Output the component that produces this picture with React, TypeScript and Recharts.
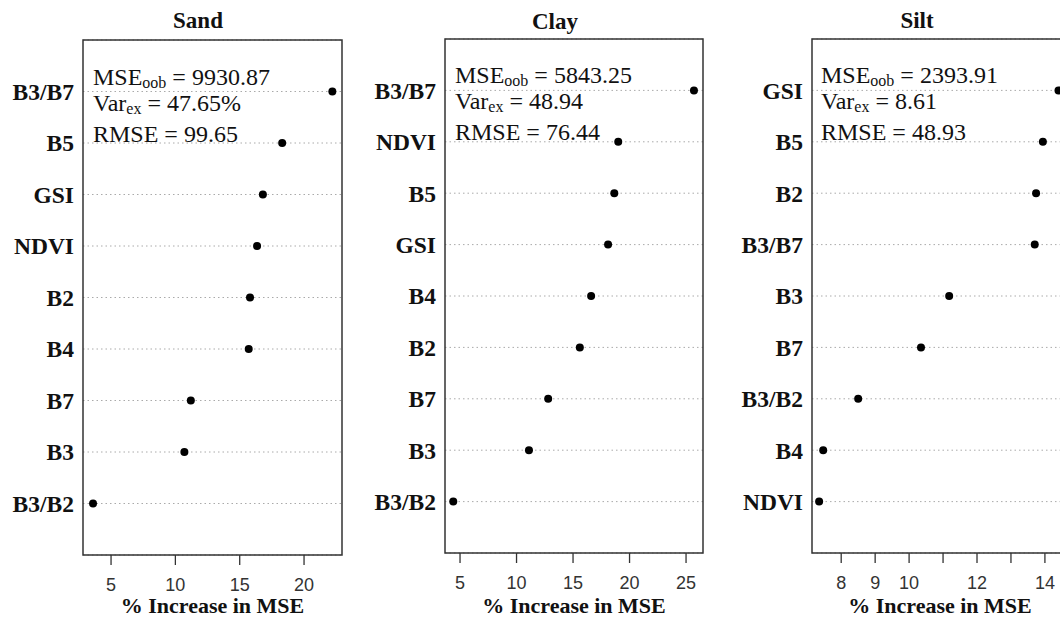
import React from 'react';
import {
  ScatterChart,
  Scatter,
  XAxis,
  YAxis,
  CartesianGrid,
  ReferenceArea,
} from 'recharts';

// variable importance, top row first
const sandLabels = ['B3/B7', 'B5', 'GSI', 'NDVI', 'B2', 'B4', 'B7', 'B3', 'B3/B2'];
const sandValues = [22.2, 18.3, 16.8, 16.35, 15.8, 15.7, 11.2, 10.7, 3.6];
const sandTicks = [5, 10, 15, 20];

const clayLabels = ['B3/B7', 'NDVI', 'B5', 'GSI', 'B4', 'B2', 'B7', 'B3', 'B3/B2'];
const clayValues = [25.7, 19.0, 18.65, 18.1, 16.6, 15.6, 12.8, 11.1, 4.4];
const clayTicks = [5, 10, 15, 20, 25];

const siltLabels = ['GSI', 'B5', 'B2', 'B3/B7', 'B3', 'B7', 'B3/B2', 'B4', 'NDVI'];
const siltValues = [14.4, 13.94, 13.74, 13.7, 11.18, 10.35, 8.5, 7.47, 7.35];
const siltTicks = [8, 9, 10, 11, 12, 13, 14];
const siltTickLabels = ['8', '9', '10', '', '12', '', '14'];

const SERIF = 'Liberation Serif';
const SANS = 'Liberation Sans';

interface PanelProps {
  left: number;
  labels: string[];
  values: number[];
  ticks: number[];
  tickText?: string[];
  domain: [number, number];
  marginLeft: number;
  marginRight: number;
  marginTop: number;
  axisHeight: number;
}

function Dot(props: any) {
  const { cx, cy } = props;
  return <circle cx={cx} cy={cy} r={4} fill="#000" />;
}

function Panel({ left, labels, values, ticks, tickText, domain, marginLeft, marginRight, marginTop, axisHeight }: PanelProps) {
  const n = labels.length;
  const data = labels.map((name, i) => ({ name, value: values[i], rank: n - i }));
  const rows = labels.map((_, i) => i + 1);
  return (
    <div style={{ position: 'absolute', left, top: 0 }}>
      <ScatterChart
        width={360}
        height={619}
        margin={{ top: marginTop, right: marginRight, bottom: 0, left: marginLeft }}
      >
        <CartesianGrid vertical={false} stroke="#aaa" strokeDasharray="1.5 3" />
        <ReferenceArea
          x1={domain[0]}
          x2={domain[1]}
          y1={0}
          y2={n + 1}
          fill="none"
          stroke="#333"
          strokeWidth={1.5}
          fillOpacity={0}
        />
        <XAxis
          type="number"
          dataKey="value"
          domain={domain}
          ticks={ticks}
          allowDataOverflow
          axisLine={false}
          tickLine={{ stroke: '#333', strokeWidth: 1.3 }}
          tickSize={10}
          tickMargin={13}
          height={axisHeight}
          tickFormatter={(v: number) => (tickText ? tickText[ticks.indexOf(v)] : String(v))}
          tick={{ fill: '#333', fontSize: 18, fontFamily: SANS }}
          label={{
            value: '% Increase in MSE',
            position: 'insideBottom',
            offset: 6,
            fontFamily: SERIF,
            fontWeight: 'bold',
            fontSize: 22,
            fill: '#111',
          }}
        />
        <YAxis
          type="number"
          dataKey="rank"
          domain={[0, n + 1]}
          ticks={rows}
          width={80}
          axisLine={false}
          tickLine={false}
          tickSize={0}
          tickMargin={9}
          tickFormatter={(v: number) => labels[n - v]}
          tick={{ fill: '#111', fontSize: 23.5, fontWeight: 'bold', fontFamily: SERIF }}
        />
        <Scatter data={data} shape={Dot} isAnimationActive={false} />
      </ScatterChart>
    </div>
  );
}

function Stats({ x, y, mse, varex, rmse }: { x: number; y: number; mse: string; varex: string; rmse: string }) {
  return (
    <g fontFamily={SERIF} fontSize={24} fill="#111">
      <text x={x} y={y}>
        MSE<tspan fontSize={16} dy={3}>oob</tspan>
        <tspan dy={-3}> = {mse}</tspan>
      </text>
      <text x={x} y={y + 26}>
        Var<tspan fontSize={16} dy={3}>ex</tspan>
        <tspan dy={-3}> = {varex}</tspan>
      </text>
      <text x={x} y={y + 57}>
        RMSE = {rmse}
      </text>
    </g>
  );
}

export default function App() {
  return (
    <div
      style={{
        position: 'absolute',
        left: 0,
        top: 0,
        width: 1060,
        height: 619,
        overflow: 'hidden',
        background: '#fff',
        fontFamily: SERIF,
      }}
    >
      <Panel
        left={0}
        labels={sandLabels}
        values={sandValues}
        ticks={sandTicks}
        domain={[2.82, 22.95]}
        marginLeft={3}
        marginRight={18}
        marginTop={40}
        axisHeight={64}
      />
      <Panel
        left={360}
        labels={clayLabels}
        values={clayValues}
        ticks={clayTicks}
        domain={[3.67, 26.5]}
        marginLeft={5}
        marginRight={17}
        marginTop={39}
        axisHeight={66}
      />
      <Panel
        left={720}
        labels={siltLabels}
        values={siltValues}
        ticks={siltTicks}
        tickText={siltTickLabels}
        domain={[7.14, 14.68]}
        marginLeft={12}
        marginRight={12}
        marginTop={39}
        axisHeight={66}
      />
      <svg
        width={1060}
        height={619}
        style={{ position: 'absolute', left: 0, top: 0, pointerEvents: 'none' }}
      >
        <g fontFamily={SERIF} fontSize={23} fontWeight="bold" fill="#111" textAnchor="middle">
          <text x={198} y={28}>Sand</text>
          <text x={555} y={29}>Clay</text>
          <text x={917} y={28}>Silt</text>
        </g>
        <Stats x={93} y={85} mse="9930.87" varex="47.65%" rmse="99.65" />
        <Stats x={455} y={83} mse="5843.25" varex="48.94" rmse="76.44" />
        <Stats x={821} y={83} mse="2393.91" varex="8.61" rmse="48.93" />
      </svg>
    </div>
  );
}
